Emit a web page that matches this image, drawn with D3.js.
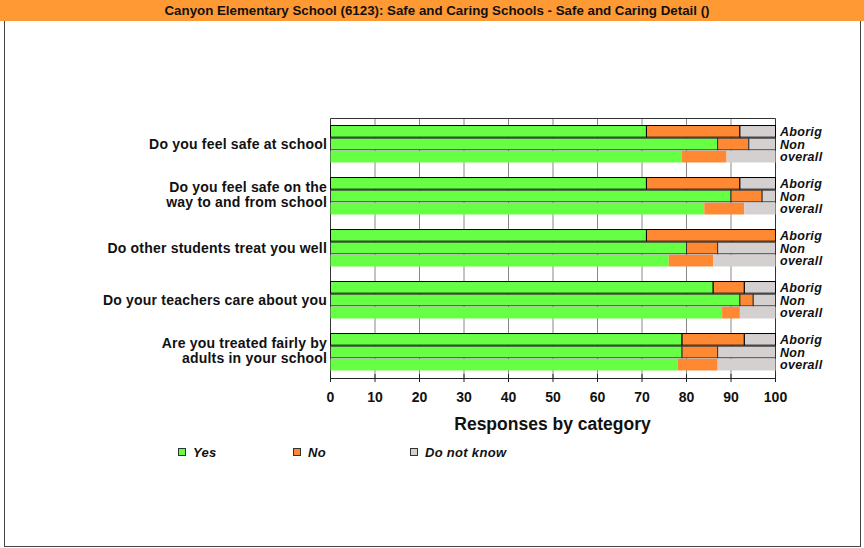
<!DOCTYPE html>
<html>
<head>
<meta charset="utf-8">
<script src="https://cdn.jsdelivr.net/npm/d3@7"></script>
<style>
  body { margin: 0; background: #fff; }
  svg { display: block; font-family: "Liberation Sans", Arial, sans-serif; }
</style>
</head>
<body>
<svg id="chart" width="864" height="548"></svg>
<script>
// questions (two-line ones split with |)
var questions = [
  "Do you feel safe at school",
  "Do you feel safe on the|way to and from school",
  "Do other students treat you well",
  "Do your teachers care about you",
  "Are you treated fairly by|adults in your school"
];
var groups = ["Aborig", "Non", "overall"];
var categories = ["Yes", "No", "Do not know"];
var colors = ["#66ff44", "#ff8833", "#d4d0d0"];

// percent per question, one array per group & category
var aborigYes = [71, 71, 71, 86, 79];
var aborigNo = [21, 21, 29, 7, 14];
var aborigDk = [8, 8, 0, 7, 7];
var nonYes = [87, 90, 80, 92, 79];
var nonNo = [7, 7, 7, 3, 8];
var nonDk = [6, 3, 13, 5, 13];
var overallYes = [79, 84, 76, 88, 78];
var overallNo = [10, 9, 10, 4, 9];
var overallDk = [11, 7, 14, 8, 13];

var xTicks = [0, 10, 20, 30, 40, 50, 60, 70, 80, 90, 100];

var byGroup = {
  Aborig: [aborigYes, aborigNo, aborigDk],
  Non: [nonYes, nonNo, nonDk],
  overall: [overallYes, overallNo, overallDk]
};

var svg = d3.select("#chart");

// frame + title bar
svg.append("rect").attr("x", 4.5).attr("y", 0.5).attr("width", 856).attr("height", 546)
  .attr("fill", "#fff").attr("stroke", "#444");
svg.append("rect").attr("x", 0).attr("y", 0).attr("width", 864).attr("height", 21)
  .attr("fill", "#ff9933");
svg.append("text").attr("x", 437).attr("y", 15).attr("text-anchor", "middle")
  .attr("font-size", 12).attr("font-weight", "bold").attr("fill", "#111")
  .attr("textLength", 545).attr("lengthAdjust", "spacingAndGlyphs")
  .text("Canyon Elementary School (6123): Safe and Caring Schools - Safe and Caring Detail ()");

var plotLeft = 330, plotRight = 775, plotTop = 118, plotBottom = 378;

var x = d3.scaleLinear().domain([0, 100]).range([plotLeft, plotRight]);
var y = d3.scaleBand().domain(questions).range([plotTop, plotBottom]).paddingInner(0.27).paddingOuter(0.135);
var yInner = d3.scaleBand().domain(groups).range([0, y.bandwidth()]);

// gridlines
svg.append("g").selectAll("line").data(xTicks.slice(1, -1)).join("line")
  .attr("x1", d => x(d) + 0.5).attr("x2", d => x(d) + 0.5)
  .attr("y1", plotTop).attr("y2", plotBottom)
  .attr("stroke", "#888").attr("stroke-width", 1);

// plot border top / right / left
svg.append("path")
  .attr("d", "M" + (plotLeft + 0.5) + "," + plotBottom + "V" + (plotTop + 0.5) + "H" + (plotRight + 0.5) + "V" + plotBottom)
  .attr("fill", "none").attr("stroke", "#333");

// bars
var rows = [];
questions.forEach(function (q, qi) {
  groups.forEach(function (g) {
    var x0 = 0;
    byGroup[g].forEach(function (arr, ci) {
      rows.push({ q: q, g: g, ci: ci, x0: x0, x1: x0 + arr[qi] });
      x0 += arr[qi];
    });
  });
});

svg.append("g").selectAll("rect").data(rows.filter(d => d.x1 > d.x0)).join("rect")
  .attr("x", d => x(d.x0) + 0.5)
  .attr("y", d => y(d.q) + yInner(d.g) + 0.5)
  .attr("width", d => x(d.x1) - x(d.x0))
  .attr("height", yInner.bandwidth() - 1)
  .attr("fill", d => colors[d.ci])
  .attr("stroke", d => d.g === "overall" ? "none" : (d.g === "Aborig" ? "#000" : "#333"))
  .attr("stroke-width", 1);

// right group labels
questions.forEach(function (q) {
  svg.append("g").selectAll("text").data(groups).join("text")
    .attr("x", plotRight + 5)
    .attr("y", g => y(q) + yInner(g) + yInner.bandwidth() / 2 + 4.5)
    .attr("font-size", 12.5).attr("font-weight", "bold").attr("font-style", "italic")
    .attr("letter-spacing", 0.3).attr("fill", "#111")
    .text(g => g);
});

// left question labels
svg.append("g").selectAll("text").data(questions).join("text")
  .attr("text-anchor", "end")
  .attr("font-size", 14).attr("font-weight", "bold").attr("letter-spacing", 0.2).attr("fill", "#111")
  .each(function (q) {
    var lines = q.split("|");
    var cy = y(q) + y.bandwidth() / 2;
    d3.select(this).selectAll("tspan").data(lines).join("tspan")
      .attr("x", 327)
      .attr("y", (d, i) => cy + 5 + (lines.length > 1 ? -1.5 : 0) + (i - (lines.length - 1) / 2) * 15)
      .text(d => d);
  });

// x axis
var axis = svg.append("g").attr("transform", "translate(0," + plotBottom + ")")
  .call(d3.axisBottom(x).tickValues(xTicks).tickSize(4).tickSizeOuter(0));
axis.select(".domain").attr("stroke", "#222");
axis.selectAll(".tick line").attr("stroke", "#222").attr("y1", -4);
axis.selectAll(".tick text").attr("font-size", 14).attr("font-weight", "bold")
  .attr("font-family", "Liberation Sans, Arial, sans-serif").attr("fill", "#111")
  .attr("y", 11).attr("dy", "0.95em");

svg.append("text").attr("x", (plotLeft + plotRight) / 2).attr("y", 430).attr("text-anchor", "middle")
  .attr("font-size", 17.5).attr("font-weight", "bold").attr("fill", "#111")
  .text("Responses by category");

// legend
var legendX = [178, 293, 410];
var leg = svg.append("g").selectAll("g").data(categories).join("g")
  .attr("transform", (d, i) => "translate(" + legendX[i] + ",448)");
leg.append("rect").attr("x", 0.5).attr("y", 0.5).attr("width", 7).attr("height", 7)
  .attr("fill", (d, i) => colors[i]).attr("stroke", "#333");
leg.append("text").attr("x", 15).attr("y", 9)
  .attr("font-size", 13).attr("font-weight", "bold").attr("font-style", "italic")
  .attr("letter-spacing", 0.3).attr("fill", "#111")
  .text(d => d);
</script>
</body>
</html>
